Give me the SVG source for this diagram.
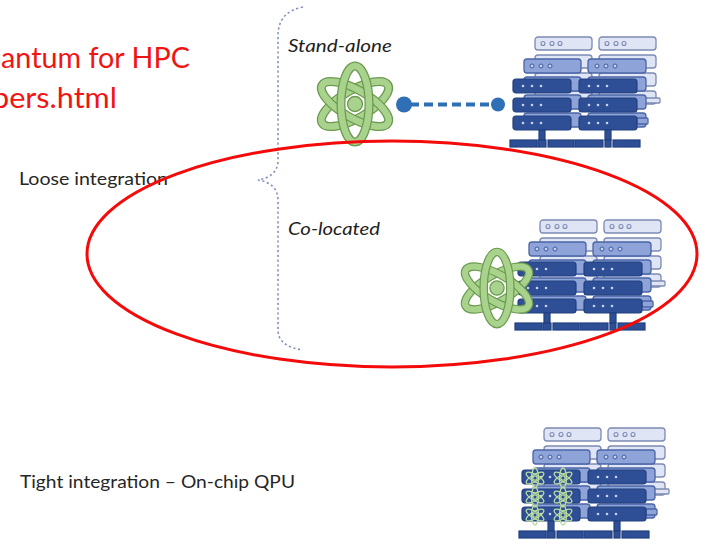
<svg xmlns="http://www.w3.org/2000/svg" xmlns:xlink="http://www.w3.org/1999/xlink" width="706" height="548" viewBox="0 0 706 548">
  <defs>
    <style>
      .pale{fill:#dfe5f4;stroke:#7d8bb3;stroke-width:1.3}
      .mid{fill:#8ea4d8;stroke:#4b64a6;stroke-width:1.3}
      .dark{fill:#2e4e96;stroke:#22407f;stroke-width:1.2}
      .pdot{fill:none;stroke:#7d8bb3;stroke-width:1.1}
      .mdot{fill:#c8d3ef;stroke:#3f5a9e;stroke-width:1}
      .ddot{fill:#c9d3ee}
      .label{font-family:Lato,"Liberation Sans",sans-serif;font-size:17px;fill:#262626}
      .sub{font-family:Lato,"Liberation Sans",sans-serif;font-size:18px;font-style:italic;fill:#1e1e1e}
      .note{font-family:Lato,"Liberation Sans",sans-serif;font-size:28px;fill:#f01414}
      .ring-o{fill:none;stroke:#6b9a50;stroke-width:9}
      .ring-i{fill:none;stroke:#a9d38c;stroke-width:6.5}
    </style>

    <!-- server rack: three layered stacks of units on a segmented base -->
    <g id="rack">
      <!-- back stack -->
      <rect class="pale" x="25" y="0" width="57" height="13" rx="3"/>
      <rect class="pale" x="89" y="0" width="57" height="13" rx="3"/>
      <rect class="pale" x="25" y="18" width="57" height="13" rx="3"/>
      <rect class="pale" x="89" y="18" width="57" height="13" rx="3"/>
      <rect class="pale" x="25" y="36" width="57" height="13" rx="3"/>
      <rect class="pale" x="89" y="36" width="57" height="13" rx="3"/>
      <rect class="pale" x="25" y="54" width="57" height="13" rx="3"/>
      <rect class="pale" x="89" y="54" width="57" height="13" rx="3"/>
      <circle class="pdot" cx="33" cy="6.5" r="2"/>
      <circle class="pdot" cx="42" cy="6.5" r="2"/>
      <circle class="pdot" cx="50" cy="6.5" r="2"/>
      <circle class="pdot" cx="97" cy="6.5" r="2"/>
      <circle class="pdot" cx="106" cy="6.5" r="2"/>
      <circle class="pdot" cx="114" cy="6.5" r="2"/>
      <rect class="pale" x="127" y="61" width="23" height="5" rx="1"/>
      <!-- middle stack -->
      <rect class="mid" x="14" y="22" width="57" height="14" rx="3"/>
      <rect class="mid" x="78" y="22" width="58" height="14" rx="3"/>
      <rect class="mid" x="14" y="40" width="57" height="14" rx="3"/>
      <rect class="mid" x="78" y="40" width="58" height="14" rx="3"/>
      <rect class="mid" x="14" y="58" width="57" height="14" rx="3"/>
      <rect class="mid" x="78" y="58" width="58" height="14" rx="3"/>
      <rect class="mid" x="14" y="76" width="57" height="14" rx="3"/>
      <rect class="mid" x="78" y="76" width="58" height="14" rx="3"/>
      <circle class="mdot" cx="22" cy="29" r="2"/>
      <circle class="mdot" cx="31" cy="29" r="2"/>
      <circle class="mdot" cx="40" cy="29" r="2"/>
      <circle class="mdot" cx="87" cy="29" r="2"/>
      <circle class="mdot" cx="96" cy="29" r="2"/>
      <circle class="mdot" cx="105" cy="29" r="2"/>
      <rect class="mid" x="127" y="81" width="11" height="6" rx="1"/>
      <!-- front stack -->
      <rect class="dark" x="3" y="42" width="58" height="14" rx="3"/>
      <rect class="dark" x="69" y="42" width="58" height="14" rx="3"/>
      <rect class="dark" x="3" y="61" width="58" height="14" rx="3"/>
      <rect class="dark" x="69" y="61" width="58" height="14" rx="3"/>
      <rect class="dark" x="3" y="79" width="58" height="14" rx="3"/>
      <rect class="dark" x="69" y="79" width="58" height="14" rx="3"/>
      <circle class="ddot" cx="13" cy="49" r="1.3"/>
      <circle class="ddot" cx="22" cy="49" r="1.3"/>
      <circle class="ddot" cx="31" cy="49" r="1.3"/>
      <circle class="ddot" cx="79" cy="49" r="1.3"/>
      <circle class="ddot" cx="88" cy="49" r="1.3"/>
      <circle class="ddot" cx="97" cy="49" r="1.3"/>
      <circle class="ddot" cx="13" cy="68" r="1.3"/>
      <circle class="ddot" cx="22" cy="68" r="1.3"/>
      <circle class="ddot" cx="31" cy="68" r="1.3"/>
      <circle class="ddot" cx="79" cy="68" r="1.3"/>
      <circle class="ddot" cx="88" cy="68" r="1.3"/>
      <circle class="ddot" cx="97" cy="68" r="1.3"/>
      <circle class="ddot" cx="13" cy="86" r="1.3"/>
      <circle class="ddot" cx="22" cy="86" r="1.3"/>
      <circle class="ddot" cx="31" cy="86" r="1.3"/>
      <circle class="ddot" cx="79" cy="86" r="1.3"/>
      <circle class="ddot" cx="88" cy="86" r="1.3"/>
      <circle class="ddot" cx="97" cy="86" r="1.3"/>
      <!-- legs and base -->
      <rect class="dark" x="29" y="93" width="6" height="10"/>
      <rect class="dark" x="95" y="93" width="6" height="10"/>
      <rect class="dark" x="0" y="103" width="27" height="7"/>
      <rect class="dark" x="28" y="103" width="8" height="7"/>
      <rect class="dark" x="38" y="103" width="26" height="7"/>
      <rect class="dark" x="65" y="103" width="28" height="7"/>
      <rect class="dark" x="95" y="103" width="6" height="7"/>
      <rect class="dark" x="103" y="103" width="27" height="7"/>
    </g>

    <!-- quantum processor symbol: three interlaced orbits around a nucleus -->
    <g id="atom">
      <ellipse class="ring-o" rx="14" ry="38" transform="rotate(60)"/>
      <ellipse class="ring-i" rx="14" ry="38" transform="rotate(60)"/>
      <ellipse class="ring-o" rx="14" ry="38" transform="rotate(-60)"/>
      <ellipse class="ring-i" rx="14" ry="38" transform="rotate(-60)"/>
      <ellipse class="ring-o" rx="14" ry="38"/>
      <ellipse class="ring-i" rx="14" ry="38"/>
      <circle r="7.5" fill="#a9d38c" stroke="#6b9a50" stroke-width="1.3"/>
    </g>

    <!-- small on-chip variant -->
    <g id="atom-small" fill="none" stroke="#b8dca0" stroke-width="1.3">
      <ellipse rx="3.5" ry="10"/>
      <ellipse rx="3.5" ry="10" transform="rotate(60)"/>
      <ellipse rx="3.5" ry="10" transform="rotate(-60)"/>
      <circle r="2.2"/>
    </g>
  </defs>

  <rect width="706" height="548" fill="#ffffff"/>

  <!-- connectors -->
  <g id="connectors">
    <path d="M303,7 C288,10 278,18 278,36 L278,160 C278,172 270,178 258,180 C270,182 278,188 278,200 L278,330 C278,342 288,348 303,350" fill="none" stroke="#8292bb" stroke-width="1.6" stroke-dasharray="2.2 2.6"/>
    <line x1="410" y1="104.5" x2="492" y2="104.5" stroke="#2e6fb5" stroke-width="4" stroke-dasharray="9 5"/>
    <circle cx="404" cy="104.5" r="8" fill="#2e6fb5"/>
    <circle cx="498" cy="104.5" r="7" fill="#2e6fb5"/>
  </g>

  <!-- stand-alone -->
  <g id="standalone">
    <text class="sub" x="288" y="52" textLength="104" lengthAdjust="spacingAndGlyphs">Stand-alone</text>
    <use xlink:href="#rack" href="#rack" transform="translate(510,37)"/>
    <use xlink:href="#atom" href="#atom" transform="translate(355,104)"/>
  </g>

  <!-- co-located -->
  <g id="colocated">
    <text class="sub" x="288" y="235" textLength="92" lengthAdjust="spacingAndGlyphs">Co-located</text>
    <use xlink:href="#rack" href="#rack" transform="translate(515,220)"/>
    <use xlink:href="#atom" href="#atom" transform="translate(497,288) scale(0.95)"/>
  </g>

  <!-- tight / on-chip -->
  <g id="onchip">
    <use xlink:href="#rack" href="#rack" transform="translate(519,428)"/>
    <use xlink:href="#atom-small" href="#atom-small" x="535" y="478"/>
    <use xlink:href="#atom-small" href="#atom-small" x="563" y="478"/>
    <use xlink:href="#atom-small" href="#atom-small" x="535" y="497"/>
    <use xlink:href="#atom-small" href="#atom-small" x="563" y="497"/>
    <use xlink:href="#atom-small" href="#atom-small" x="535" y="515"/>
    <use xlink:href="#atom-small" href="#atom-small" x="563" y="515"/>
  </g>

  <!-- category labels -->
  <g id="labels">
    <text class="label" x="19" y="185" textLength="149" lengthAdjust="spacingAndGlyphs">Loose integration</text>
    <text class="label" x="20" y="488" textLength="275" lengthAdjust="spacingAndGlyphs">Tight integration – On-chip QPU</text>
  </g>

  <!-- red annotation -->
  <g id="annotation">
    <text class="note" x="1" y="68" textLength="189" lengthAdjust="spacingAndGlyphs">antum for HPC</text>
    <text class="note" x="-8" y="108" textLength="125" lengthAdjust="spacingAndGlyphs">pers.html</text>
    <ellipse cx="392" cy="254" rx="305" ry="113" fill="none" stroke="#f50a0a" stroke-width="3"/>
  </g>
</svg>
